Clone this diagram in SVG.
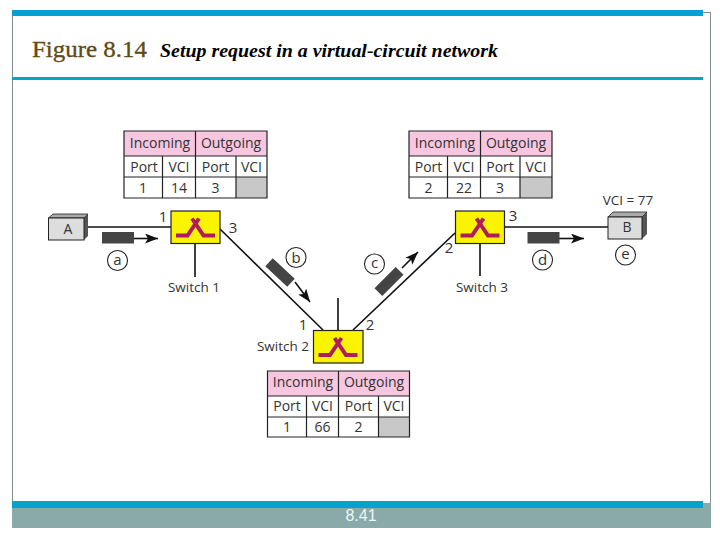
<svg xmlns="http://www.w3.org/2000/svg" width="720" height="540" viewBox="0 0 720 540">
<defs>
<marker id="ah" markerUnits="userSpaceOnUse" markerWidth="14" markerHeight="10" refX="13" refY="5" orient="auto"><path d="M0 0L13 5L0 10L3 5Z" fill="#111"/></marker>
<g id="glyph"><path class="gl" d="M5 24.500H16.500L28 7.500M44 24.500H32.500L21 7.500"/></g>
</defs>
<style>
text{font-family:"Open Sans","Noto Sans",sans-serif;font-size:13.5px;fill:#333;text-anchor:middle}
.n{font-size:15px}
.h{font-size:14px}
.p{font-size:14px}
.hd{fill:#f7c6df}.cell{fill:#fff}.tl{fill:none;stroke:#222;stroke-width:1.2}.gr{fill:#c8c8c8}
.sw{fill:#fbf400;stroke:#222;stroke-width:1.2}
.gl{fill:none;stroke:#b01c5c;stroke-width:4}
.ln{stroke:#111;stroke-width:1.6;fill:none}
.pk{fill:#444}
.arr{stroke:#111;stroke-width:1.6;fill:none;marker-end:url(#ah)}
.ci{fill:#fff;stroke:#222;stroke-width:1.1}
</style>
<rect width="720" height="540" fill="#fff"/>
<g id="frame">
<rect x="12.500" y="12.500" width="698" height="515" fill="#fff" stroke="#7f8f90" stroke-width="1"/>
<rect x="12" y="503" width="699" height="25" fill="#8aa9a9"/>
<rect x="12" y="10" width="691" height="6" fill="#07a0d0"/>
<rect x="12" y="77" width="691" height="3" fill="#07a0d0"/>
<rect x="12" y="501" width="691" height="7" fill="#07a0d0"/>
<text x="32" y="57" textLength="115" lengthAdjust="spacingAndGlyphs" style="text-anchor:start;font-family:'Liberation Serif',serif;font-size:24px;fill:#5f4b14;stroke:#5f4b14;stroke-width:.35">Figure 8.14</text>
<text x="160" y="57" textLength="338" lengthAdjust="spacingAndGlyphs" style="text-anchor:start;font-family:'Liberation Serif',serif;font-size:19px;font-weight:bold;font-style:italic;fill:#000">Setup request in a virtual-circuit network</text>
<text x="361" y="521" style="font-family:'Liberation Sans',sans-serif;font-size:16px;fill:#eef6f6">8.41</text>
</g>
<g id="connectors">
<path class="ln" d="M88 227H171M195 243V277M220 229L323 330M338 298V330M353 330L455 233M480 243V276M505 227H608"/>
<path class="arr" d="M134 238.500H158"/>
<path class="arr" d="M559 238.500H584"/>
<path class="arr" d="M295 282L310 302"/>
<path class="arr" d="M402 268L418 252"/>
</g>
<g id="packet-a"><rect class="pk" x="102" y="232" width="32" height="11.500"/></g>
<g id="packet-b"><rect class="pk" x="-15" y="-5.500" width="30" height="11" transform="translate(280 272.500) rotate(43)"/></g>
<g id="packet-c"><rect class="pk" x="-15" y="-5.500" width="30" height="11" transform="translate(389 281.500) rotate(-45)"/></g>
<g id="packet-d"><rect class="pk" x="527.500" y="232" width="32" height="11.500"/></g>
<g id="node-A">
<path d="M84 218L88 214V236L84 240Z" fill="#555"/>
<path d="M48.500 218L53 214H88L84 218Z" fill="#aaa" stroke="#222" stroke-width=".8"/>
<rect x="48.500" y="218" width="35.500" height="22" fill="#ddd" stroke="#222" stroke-width="1"/>
<text class="p" x="68" y="234">A</text>
</g>
<g id="node-B">
<path d="M642 217L647 212V234L642 239Z" fill="#555"/>
<path d="M608 217L613 212H647L642 217Z" fill="#aaa" stroke="#222" stroke-width=".8"/>
<rect x="608" y="217" width="34" height="22" fill="#ddd" stroke="#222" stroke-width="1"/>
<text class="p" x="627" y="232">B</text>
<text x="628" y="205">VCI = 77</text>
</g>
<g id="switch-1">
<rect class="sw" x="171" y="211" width="49" height="32.500"/>
<use href="#glyph" x="171" y="211"/>
<text class="n" x="163" y="222">1</text><text class="n" x="233" y="233">3</text>
<text x="194" y="292">Switch 1</text>
</g>
<g id="switch-2">
<rect class="sw" x="313.500" y="330.500" width="49.500" height="32.500"/>
<use href="#glyph" x="313.500" y="330.500"/>
<text class="n" x="303" y="330">1</text><text class="n" x="370" y="330">2</text>
<text x="283" y="351">Switch 2</text>
</g>
<g id="switch-3">
<rect class="sw" x="455.500" y="211" width="49" height="32.500"/>
<use href="#glyph" x="455.500" y="211"/>
<text class="n" x="513" y="221">3</text><text class="n" x="449" y="253">2</text>
<text x="482" y="292">Switch 3</text>
</g>
<g id="label-a"><circle class="ci" cx="117.500" cy="260.500" r="10"/><text class="n" x="117.500" y="265">a</text></g>
<g id="label-b"><circle class="ci" cx="296" cy="257.500" r="10"/><text class="n" x="296" y="263">b</text></g>
<g id="label-c"><circle class="ci" cx="374.500" cy="264" r="10"/><text class="n" x="374.500" y="268">c</text></g>
<g id="label-d"><circle class="ci" cx="542.500" cy="260" r="10"/><text class="n" x="542.500" y="265">d</text></g>
<g id="label-e"><circle class="ci" cx="625.500" cy="255" r="10"/><text class="n" x="625.500" y="259">e</text></g>
<g id="table-1">
<rect class="hd" x="124" y="131" width="143" height="25"/>
<rect class="cell" x="124" y="156" width="143" height="42"/>
<rect class="gr" x="236" y="177" width="31" height="21"/>
<path class="tl" d="M124 131H267V198H124ZM124 156H267M124 177H267M195.500 131V198M162.500 156V198M236 156V198"/>
<text class="h" x="160" y="148">Incoming</text><text class="h" x="231" y="148">Outgoing</text>
<text class="p" x="144" y="172">Port</text><text class="p" x="179" y="172">VCI</text><text class="p" x="215.500" y="172">Port</text><text class="p" x="251.500" y="172">VCI</text>
<text class="p" x="143" y="193">1</text><text class="p" x="179" y="193">14</text><text class="p" x="215.500" y="193">3</text>
</g>
<g id="table-2">
<rect class="hd" x="409" y="131" width="143" height="25"/>
<rect class="cell" x="409" y="156" width="143" height="42"/>
<rect class="gr" x="520" y="177" width="32" height="21"/>
<path class="tl" d="M409 131H552V198H409ZM409 156H552M409 177H552M480.500 131V198M447.500 156V198M520 156V198"/>
<text class="h" x="445" y="148">Incoming</text><text class="h" x="516" y="148">Outgoing</text>
<text class="p" x="428.500" y="172">Port</text><text class="p" x="464" y="172">VCI</text><text class="p" x="500" y="172">Port</text><text class="p" x="536" y="172">VCI</text>
<text class="p" x="428.500" y="193">2</text><text class="p" x="464" y="193">22</text><text class="p" x="500" y="193">3</text>
</g>
<g id="table-3">
<rect class="hd" x="267.500" y="371" width="142" height="25"/>
<rect class="cell" x="267.500" y="396" width="142" height="41"/>
<rect class="gr" x="378.500" y="417" width="31" height="20"/>
<path class="tl" d="M267.500 371H409.500V437H267.500ZM267.500 396H409.500M267.500 417H409.500M338.500 371V437M306.500 396V437M378.500 396V437"/>
<text class="h" x="303" y="387">Incoming</text><text class="h" x="374" y="387">Outgoing</text>
<text class="p" x="287" y="411">Port</text><text class="p" x="322.500" y="411">VCI</text><text class="p" x="358.500" y="411">Port</text><text class="p" x="394" y="411">VCI</text>
<text class="p" x="287" y="432">1</text><text class="p" x="322.500" y="432">66</text><text class="p" x="358.500" y="432">2</text>
</g>
</svg>
